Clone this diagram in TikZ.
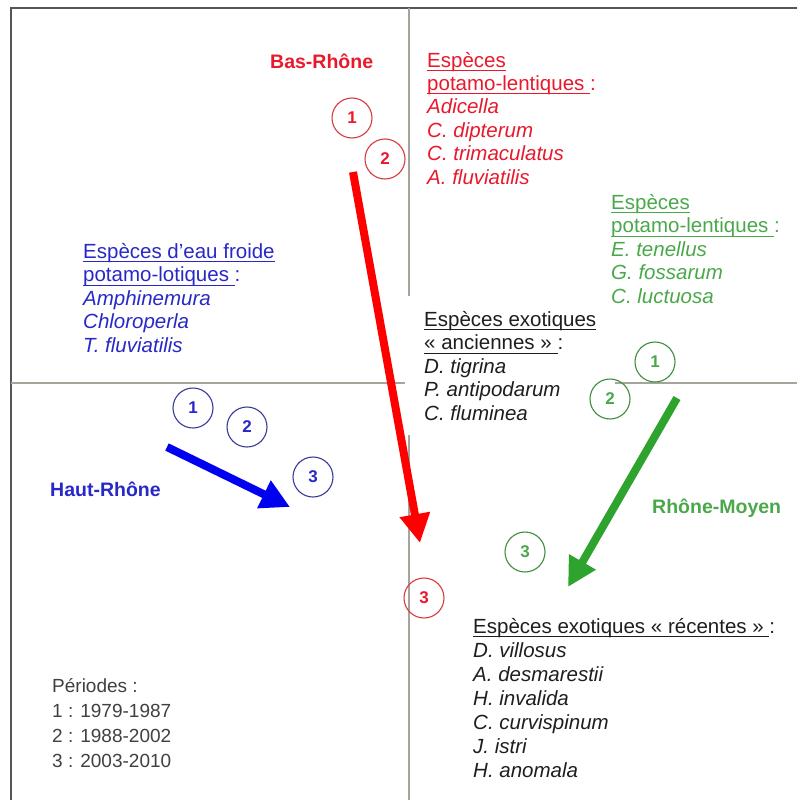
\documentclass[tikz,border=0pt]{standalone}
\usepackage{fontspec}
\setmainfont{Liberation Sans}
\usepackage{tikz}
\usetikzlibrary{arrows.meta}
\definecolor{rhonered}{HTML}{FF0000}
\definecolor{rhoneredtxt}{HTML}{E8192C}
\definecolor{rhoneredcirc}{HTML}{D83A40}
\definecolor{rhoneblue}{HTML}{0000F0}
\definecolor{rhonebluetxt}{HTML}{2828C8}
\definecolor{rhonebluecirc}{HTML}{3A3A9A}
\definecolor{rhonegreen}{HTML}{2EA32E}
\definecolor{rhonegreentxt}{HTML}{4AA84A}
\definecolor{rhonegreencirc}{HTML}{3E8E3E}
\definecolor{axisgray}{HTML}{A5A59C}
\definecolor{framegray}{HTML}{555555}
\definecolor{inkblack}{HTML}{1E1E1E}
\newcommand{\souligne}[1]{\setbox0=\hbox{#1}\rlap{\rule[-4pt]{\wd0}{1.1pt}}\box0}

\begin{document}
\begin{tikzpicture}[x=1pt,y=-1pt,
  font=\fontsize{20.5}{23.4}\selectfont,
  txt/.style={anchor=base west,align=left,inner sep=0pt},
  reg/.style={anchor=base west,inner sep=0pt,font=\fontsize{19.5}{23.4}\selectfont\bfseries},
  per/.style={circle,draw,minimum size=40pt,inner sep=0pt,line width=1.1pt,font=\fontsize{17}{17}\selectfont\bfseries},
  a/.style={-{Triangle[length=29pt,width=29pt]},line width=8pt}]
\useasboundingbox (0,0) rectangle (797,800);
% cadre et axes
\draw[framegray,line width=2.2pt] (11,800) -- (11,8) -- (797,8);
\draw[axisgray,line width=1.8pt] (409,8) -- (409,800);
\draw[axisgray,line width=1.8pt] (11,383) -- (797,383);
% especes exotiques anciennes (cache les axes)
\node[txt,fill=white,inner xsep=19pt,inner ysep=15pt,text=inkblack] (anc) at (405,420)
  {\souligne{Espèces exotiques}\\ \souligne{«~anciennes~»\ }:\\ \textit{D. tigrina}\\ \textit{P. antipodarum}\\ \textit{C. fluminea}};
% trajectoires
\coordinate (basA) at (353,172); \coordinate (basB) at (420,543);
\coordinate (hautA) at (167,447); \coordinate (hautB) at (290,507);
\coordinate (moyA) at (677,398); \coordinate (moyB) at (568,587);
\draw[a,rhonered] (basA) -- (basB);
\draw[a,rhoneblue] (hautA) -- (hautB);
\draw[a,rhonegreen] (moyA) -- (moyB);
% periodes
\node[per,draw=rhoneredcirc,text=rhoneredtxt] (bas1) at (352,118) {1};
\node[per,draw=rhoneredcirc,text=rhoneredtxt] (bas2) at (385,159) {2};
\node[per,draw=rhoneredcirc,text=rhoneredtxt] (bas3) at (424,598) {3};
\node[per,draw=rhonebluecirc,text=rhonebluetxt] (haut1) at (193,408) {1};
\node[per,draw=rhonebluecirc,text=rhonebluetxt] (haut2) at (247,427) {2};
\node[per,draw=rhonebluecirc,text=rhonebluetxt] (haut3) at (313,477) {3};
\node[per,draw=rhonegreencirc,text=rhonegreentxt] (moy1) at (655,362) {1};
\node[per,draw=rhonegreencirc,text=rhonegreentxt] (moy2) at (610,399) {2};
\node[per,draw=rhonegreencirc,text=rhonegreentxt] (moy3) at (525,552) {3};
% secteurs
\node[reg,text=rhoneredtxt] (basrhone) at (270,69) {Bas-Rhône};
\node[reg,text=rhonebluetxt] (hautrhone) at (50,496) {Haut-Rhône};
\node[reg,text=rhonegreentxt] (rhonemoyen) at (652,513) {Rhône-Moyen};
% listes d'especes
\node[txt,text=rhoneredtxt] (lentR) at (427,184)
  {\souligne{Espèces}\\ \souligne{potamo-lentiques\ }:\\ \textit{Adicella}\\ \textit{C. dipterum}\\ \textit{C. trimaculatus}\\ \textit{A. fluviatilis}};
\node[txt,text=rhonegreentxt] (lentV) at (611,303)
  {\souligne{Espèces}\\ \souligne{potamo-lentiques\ }:\\ \textit{E. tenellus}\\ \textit{G. fossarum}\\ \textit{C. luctuosa}};
\node[txt,text=rhonebluetxt] (froide) at (83,352)
  {\souligne{Espèces d'eau froide}\\ \souligne{potamo-lotiques\ }:\\ \textit{Amphinemura}\\ \textit{Chloroperla}\\ \textit{T. fluviatilis}};
\node[txt,text=inkblack,font=\fontsize{20.5}{24}\selectfont] (rec) at (473,777)
  {\souligne{Espèces exotiques «~récentes~»\ }:\\ \textit{D. villosus}\\ \textit{A. desmarestii}\\ \textit{H. invalida}\\ \textit{C. curvispinum}\\ \textit{J. istri}\\ \textit{H. anomala}};
\node[txt,text=inkblack!85,font=\fontsize{19}{24.7}\selectfont] (leg) at (52,767)
  {Périodes :\\ 1 : 1979-1987\\ 2 : 1988-2002\\ 3 : 2003-2010};
\end{tikzpicture}
\end{document}
